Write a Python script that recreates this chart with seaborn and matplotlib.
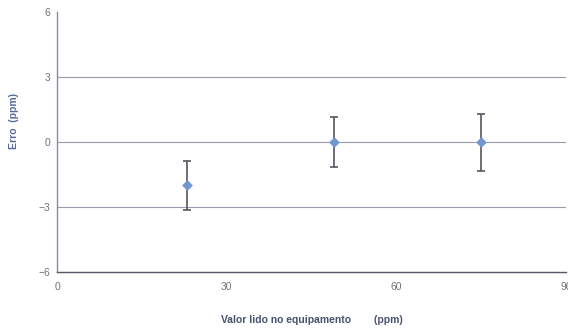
import matplotlib
matplotlib.use("Agg")
import matplotlib.pyplot as plt
import seaborn as sns
import pandas as pd

x_vals = [23, 49, 75]
erro = [-2.0, 0.0, 0.0]
err_up = [1.12, 1.15, 1.3]
err_down = [1.15, 1.15, 1.35]
x_ticks = [0, 30, 60, 90]
y_ticks = [-6, -3, 0, 3, 6]

sns.set_theme(style="white")
plt.rcParams['font.family'] = ['Liberation Sans', 'DejaVu Sans']

fig = plt.figure(figsize=(5.68, 3.31), dpi=100)
ax = fig.add_axes([0.1004, 0.178, 0.8961, 0.786])

df = pd.DataFrame({"x": x_vals, "y": erro})
ax.errorbar(x_vals, erro, yerr=[err_down, err_up], fmt='none', ecolor='#555560',
            elinewidth=1.2, capsize=3, capthick=1.2, zorder=3)
sns.scatterplot(data=df, x="x", y="y", marker='D', s=30, color='#7196d0',
                edgecolor='#7196d0', linewidth=0, ax=ax, zorder=4)

ax.set_xlim(0, 90)
ax.set_ylim(-6, 6)
ax.set_xticks(x_ticks)
ax.set_yticks(y_ticks)
for yv in [-3, 0, 3]:
    ax.axhline(yv, color='#9a9ab0', lw=0.8, zorder=1)

for s in ['top', 'right']:
    ax.spines[s].set_visible(False)
ax.spines['left'].set_color('#8888a8')
ax.spines['bottom'].set_color('#555566')
ax.spines['left'].set_linewidth(1.0)
ax.spines['bottom'].set_linewidth(1.0)
ax.tick_params(axis='both', labelsize=7.5, colors='#707070', length=3, width=0.8, direction='inout')
ax.tick_params(axis='x', pad=6)

ax.set_xlabel("Valor lido no equipamento        (ppm)", fontsize=7.5, fontweight='bold',
              color='#4a5070', labelpad=16)
ax.set_ylabel("Erro  (ppm)", fontsize=7.5, fontweight='bold', color='#5a6aa0', labelpad=10)
ax.yaxis.set_label_coords(-0.075, 0.58)

fig.savefig("out.png", dpi=100)
